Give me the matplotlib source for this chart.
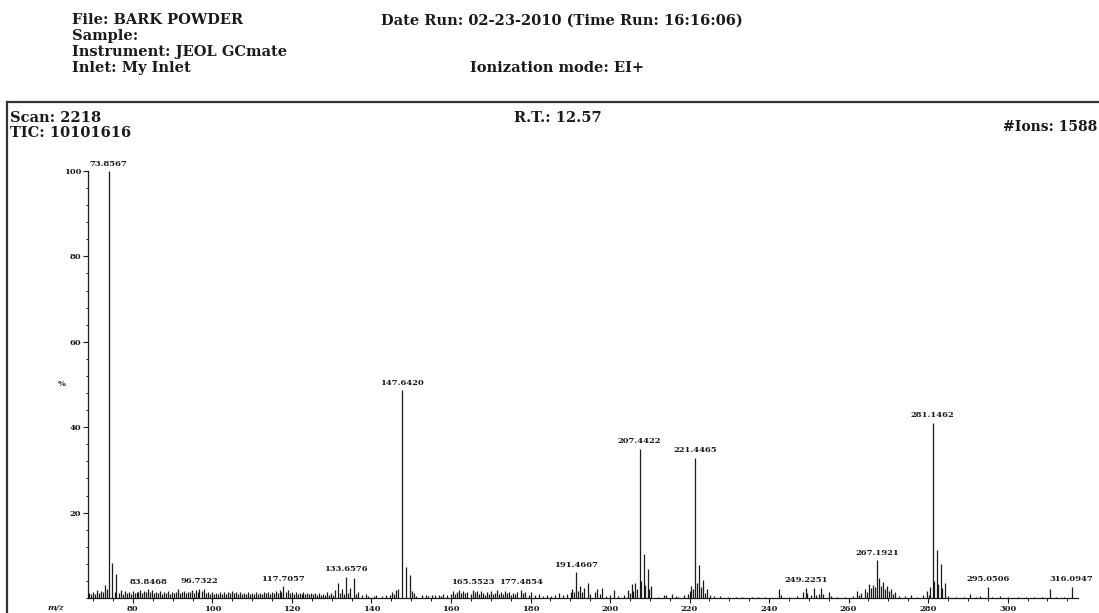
import matplotlib
matplotlib.use("Agg")
import matplotlib.pyplot as plt
from matplotlib.ticker import MultipleLocator, FixedLocator
from matplotlib.lines import Line2D

# ---------------- data (m/z, relative intensity %) ----------------
low_mz = [68.9, 69.4, 69.9, 70.4, 70.9, 71.4, 71.9, 72.4, 72.9, 73.4,
          73.8567, 74.86, 75.4, 75.86, 76.4, 76.9, 77.4, 77.9, 78.4, 78.9,
          79.4, 79.9, 80.4, 80.9, 81.4, 81.9, 82.4, 82.9, 83.4, 83.8468,
          84.4, 84.9, 85.4, 85.9, 86.4, 86.9, 87.4, 87.9, 88.4, 88.9,
          89.4, 89.9, 90.4, 90.9, 91.4, 91.9, 92.4, 92.9, 93.4, 93.9,
          94.4, 94.9, 95.4, 95.9, 96.3, 96.7322, 97.3, 97.9, 98.4, 98.9,
          99.4, 99.9, 100.4, 100.9, 101.4, 101.9, 102.4, 102.9, 103.4, 103.9,
          104.4, 104.9, 105.4, 105.9, 106.4, 106.9, 107.4, 107.9, 108.4, 108.9,
          109.4, 109.9, 110.4, 110.9, 111.4, 111.9, 112.4, 112.9, 113.4, 113.9,
          114.4, 114.9, 115.4, 115.9, 116.4, 116.9, 117.2, 117.7057, 118.4, 118.9,
          119.4, 119.9, 120.4, 120.9, 121.4, 121.9, 122.4, 122.9, 123.4, 123.9,
          124.4, 124.9, 125.4, 125.9, 126.4, 126.9, 127.4, 127.9]
low_pct = [1.2, 0.9, 1.5, 1.0, 1.8, 1.1, 1.6, 1.3, 3.0, 2.2,
           100.0, 8.3, 1.5, 5.6, 1.2, 1.8, 1.0, 1.6, 1.2, 1.4,
           1.0, 1.7, 1.1, 1.5, 1.3, 1.9, 1.2, 1.6, 1.3, 2.0,
           1.4, 1.8, 1.1, 1.5, 1.2, 1.7, 1.0, 1.4, 1.1, 1.6,
           1.0, 1.3, 1.1, 1.5, 2.0, 1.2, 1.4, 1.7, 1.1, 1.5,
           1.3, 1.8, 1.2, 1.9, 1.4, 2.2, 1.6, 2.0, 1.1, 1.5,
           1.0, 1.3, 0.9, 1.2, 1.0, 1.4, 0.9, 1.3, 1.0, 1.5,
           1.1, 1.7, 1.2, 1.4, 1.0, 1.3, 0.9, 1.2, 1.0, 1.4,
           0.9, 1.2, 1.0, 1.3, 0.9, 1.2, 1.0, 1.4, 1.1, 1.3,
           1.0, 1.5, 1.1, 1.6, 1.2, 1.8, 1.4, 2.8, 1.5, 1.9,
           1.2, 1.4, 1.0, 1.3, 0.9, 1.2, 1.0, 1.3, 0.9, 1.1,
           1.0, 1.2, 0.9, 1.1, 0.8, 1.2, 0.7, 1.0]

mid_mz = [128.4, 128.9, 129.4, 129.9, 130.4, 130.9, 131.6, 132.1, 132.6, 133.1,
          133.6576, 134.1, 134.6, 135.6, 136.1, 136.6, 137.6, 138.6, 139.1, 140.6,
          141.1, 142.6, 143.6, 144.6, 145.1, 145.6, 146.1, 146.6, 147.6420, 148.64,
          149.64, 150.1, 150.6, 151.1, 152.6, 153.6, 154.1, 155.1, 156.1, 157.1,
          157.6, 158.1, 159.1, 160.1, 160.6, 161.1, 161.6, 162.1, 162.6, 163.1,
          163.6, 164.1, 165.0, 165.5523, 166.1, 166.6, 167.1, 167.6, 168.1, 168.6,
          169.1, 169.6, 170.1, 170.6, 171.1, 171.6, 172.1, 172.6, 173.1, 173.6,
          174.1, 174.6, 175.1, 175.6, 176.1, 176.6, 177.4854, 178.1, 178.6, 179.6,
          180.1, 181.1, 182.1, 183.1, 184.1, 185.1, 186.1, 187.1, 188.1, 189.1]
mid_pct = [0.6, 1.5, 0.8, 1.2, 0.6, 1.8, 3.5, 1.2, 2.0, 1.0,
           5.0, 1.2, 2.4, 4.6, 1.0, 1.4, 0.6, 0.9, 0.5, 0.4,
           0.7, 0.5, 0.6, 0.8, 1.4, 1.0, 1.8, 2.2, 48.6, 7.3,
           5.5, 1.6, 1.2, 0.5, 0.6, 0.7, 0.5, 0.7, 0.6, 0.8,
           0.5, 1.0, 0.7, 1.0, 1.6, 1.0, 1.5, 1.8, 1.1, 1.7,
           1.2, 1.5, 1.0, 1.9, 1.3, 1.6, 1.0, 1.7, 1.2, 0.8,
           1.4, 1.0, 1.6, 0.9, 1.2, 1.8, 1.0, 1.3, 0.9, 1.6,
           1.1, 1.4, 0.8, 1.2, 1.0, 1.5, 1.9, 1.2, 1.5, 0.7,
           1.4, 0.6, 1.0, 0.5, 0.8, 0.5, 0.6, 1.2, 0.6, 1.0]

high_mz = [190.1, 190.5, 191.0, 191.4667, 192.0, 192.5, 193.0, 193.5, 194.5, 195.0,
           196.1, 196.6, 197.6, 198.1, 199.1, 200.1, 201.1, 202.1, 203.6, 204.4,
           204.9, 205.4, 205.9, 206.4, 206.9, 207.4422, 207.9, 208.44, 208.9, 209.44,
           209.9, 210.4, 212.1, 213.6, 214.1, 215.6, 216.6, 217.1, 218.6, 219.6,
           220.1, 220.45, 220.9, 221.4465, 221.9, 222.45, 222.9, 223.45, 223.9, 224.45,
           225.1, 226.1, 227.6, 229.6, 231.6, 233.1, 235.6, 237.1, 239.1, 242.6,
           243.1, 245.1, 247.1, 248.6, 249.2251, 249.6, 250.6, 251.2, 251.7, 252.6,
           253.1, 253.6, 255.1, 255.6, 257.1, 259.1, 261.1, 262.1, 262.6, 263.1,
           264.1, 264.6, 265.1, 265.6, 266.1, 266.6, 267.1921, 267.6, 268.1, 268.6,
           269.1, 269.6, 270.1, 270.6, 271.1, 271.6, 272.6, 274.1, 275.6, 277.1,
           278.6, 279.6, 280.1, 280.6, 281.1462, 281.6, 282.15, 282.6, 283.15, 283.6,
           284.15, 285.1, 287.1, 289.1, 290.6, 292.1, 293.1, 295.0506, 296.1, 298.1,
           300.1, 302.6, 304.6, 306.6, 308.6, 310.6, 312.1, 314.1, 316.0947]
high_pct = [1.3, 2.2, 1.4, 6.0, 1.6, 2.8, 1.5, 2.3, 3.4, 1.0,
            1.4, 2.0, 0.9, 2.4, 0.5, 0.6, 1.8, 0.5, 0.7, 1.9,
            1.2, 3.3, 1.6, 3.4, 2.0, 35.0, 4.0, 10.2, 3.0, 6.9,
            2.0, 2.8, 0.3, 0.8, 0.6, 0.9, 0.5, 0.3, 0.6, 1.0,
            1.6, 2.9, 2.2, 32.9, 3.5, 7.8, 2.5, 4.2, 1.2, 2.0,
            0.6, 0.4, 0.5, 0.3, 0.3, 0.2, 0.3, 0.2, 0.3, 2.0,
            0.6, 0.3, 0.4, 1.3, 2.4, 1.2, 0.6, 2.3, 0.8, 1.0,
            2.4, 1.0, 1.5, 0.5, 0.3, 0.3, 0.4, 1.6, 0.6, 1.2,
            2.0, 1.4, 3.2, 2.4, 3.0, 2.6, 8.9, 4.8, 2.8, 3.8,
            2.2, 2.8, 1.6, 2.0, 1.0, 1.4, 0.5, 0.4, 0.6, 0.3,
            0.6, 1.6, 0.8, 2.6, 41.1, 4.0, 11.2, 3.2, 8.0, 2.4,
            3.6, 0.5, 0.3, 0.3, 0.9, 0.3, 0.5, 2.6, 0.3, 0.4,
            0.2, 0.3, 0.2, 0.3, 0.3, 2.0, 0.3, 0.2, 2.6]

label_mz = [73.8567, 83.8468, 96.7322, 117.7057, 133.6576, 147.6420, 165.5523,
            177.4854, 191.4667, 207.4422, 221.4465, 249.2251, 267.1921,
            281.1462, 295.0506, 316.0947]
label_text = ["73.8567", "83.8468", "96.7322", "117.7057", "133.6576", "147.6420",
              "165.5523", "177.4854", "191.4667", "207.4422", "221.4465",
              "249.2251", "267.1921", "281.1462", "295.0506", "316.0947"]

x_ticks = [80, 100, 120, 140, 160, 180, 200, 220, 240, 260, 280, 300]
y_ticks = [20, 40, 60, 80, 100]

header_left = ["File: BARK POWDER", "Sample:", "Instrument: JEOL GCmate", "Inlet: My Inlet"]
date_text = "Date Run: 02-23-2010 (Time Run: 16:16:06)"
ion_text = "Ionization mode: EI+"
scan_text = "Scan: 2218"
tic_text = "TIC: 10101616"
rt_text = "R.T.: 12.57"
ions_text = "#Ions: 1588"

# ---------------- figure ----------------
W, H = 1099, 613
fig = plt.figure(figsize=(W / 100, H / 100), dpi=100)
fig.patch.set_facecolor("white")


def fx(px):
    return px / W


def fy(py):
    return 1 - py / H


FONT = "DejaVu Serif"
INK = "#1a1a1a"

ax = fig.add_axes([fx(88), fy(598), fx(1078) - fx(88), fy(171) - fy(598)])
ax.set_xlim(68.7, 317.7)
ax.set_ylim(0, 100)

all_mz = low_mz + mid_mz + high_mz
all_pct = low_pct + mid_pct + high_pct
ax.vlines(all_mz, 0, all_pct, colors=INK, linewidth=0.9)

for s in ["top", "right"]:
    ax.spines[s].set_visible(False)
for s in ["left", "bottom"]:
    ax.spines[s].set_linewidth(0.9)
    ax.spines[s].set_color(INK)

ax.xaxis.set_major_locator(FixedLocator(x_ticks))
ax.xaxis.set_minor_locator(MultipleLocator(5))
ax.yaxis.set_major_locator(FixedLocator(y_ticks))
ax.yaxis.set_minor_locator(MultipleLocator(4))
ax.tick_params(axis="both", which="major", direction="out", length=3.5,
               width=0.8, color=INK, labelsize=6, pad=1.5)
ax.tick_params(axis="both", which="minor", direction="out", length=1.8,
               width=0.7, color=INK)
ax.set_xticklabels([str(t) for t in x_ticks], fontfamily=FONT, fontweight="bold",
                   fontsize=6, color=INK)
ax.set_yticklabels([str(t) for t in y_ticks], fontfamily=FONT, fontweight="bold",
                   fontsize=6, color=INK)

# peak labels
for m, t in zip(label_mz, label_text):
    i = min(range(len(all_mz)), key=lambda k: abs(all_mz[k] - m))
    ax.annotate(t, xy=(all_mz[i], all_pct[i]), xytext=(0, 2.5),
                textcoords="offset points", ha="center", va="bottom",
                fontsize=6, fontfamily=FONT, fontweight="bold", color=INK,
                annotation_clip=False)

# axis captions
fig.text(fx(56), fy(608), "m/z", ha="center", va="center", fontsize=6,
         fontfamily=FONT, fontweight="bold", style="italic", color=INK)
fig.text(fx(62), fy(384), "%", ha="center", va="center", fontsize=6,
         fontfamily=FONT, fontweight="bold", color=INK)

# header texts
HS = 10.5
for txt, y in zip(header_left, [20.5, 36, 52, 68]):
    fig.text(fx(72), fy(y), txt, ha="left", va="center", fontsize=HS,
             fontfamily=FONT, fontweight="bold", color=INK)
fig.text(fx(381), fy(20.5), date_text, ha="left", va="center", fontsize=HS,
         fontfamily=FONT, fontweight="bold", color=INK)
fig.text(fx(470), fy(68), ion_text, ha="left", va="center", fontsize=HS,
         fontfamily=FONT, fontweight="bold", color=INK)
fig.text(fx(10), fy(118), scan_text, ha="left", va="center", fontsize=HS,
         fontfamily=FONT, fontweight="bold", color=INK)
fig.text(fx(10), fy(133), tic_text, ha="left", va="center", fontsize=HS,
         fontfamily=FONT, fontweight="bold", color=INK)
fig.text(fx(514), fy(118), rt_text, ha="left", va="center", fontsize=HS,
         fontfamily=FONT, fontweight="bold", color=INK)
fig.text(fx(1097), fy(127), ions_text, ha="right", va="center", fontsize=10,
         fontfamily=FONT, fontweight="bold", color=INK)

# frame around the spectrum panel
fig.add_artist(Line2D([fx(7), 1.0], [fy(102), fy(102)], transform=fig.transFigure,
                      color="#333333", linewidth=1.6))
fig.add_artist(Line2D([fx(7), fx(7)], [fy(102), 0.0], transform=fig.transFigure,
                      color="#333333", linewidth=1.6))

fig.savefig("out.png", dpi=100, facecolor="white")
